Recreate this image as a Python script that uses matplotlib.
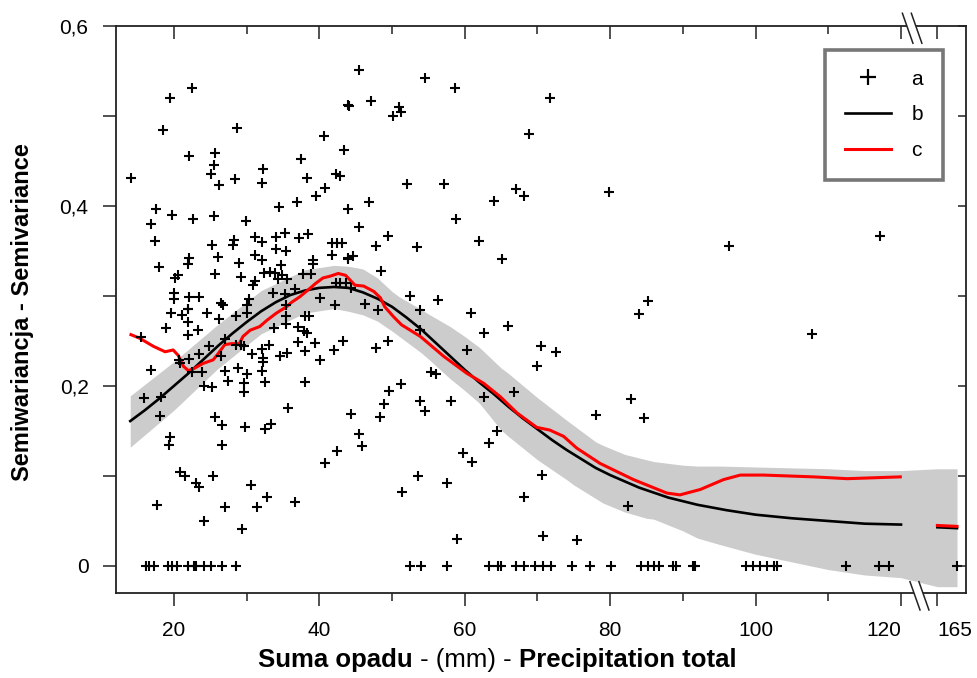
import numpy as np
import matplotlib
matplotlib.use('Agg')
import matplotlib.pyplot as plt
from matplotlib.lines import Line2D
from matplotlib.patches import Polygon

plt.rcParams['font.family'] = ['Liberation Sans', 'DejaVu Sans']

# ── Data ──────────────────────────────────────────────────────────────────────

obs_x = [14.1, 22.5, 19.4, 18.5, 28.7, 22.1, 25.7, 25.5, 25.1, 26.2, 28.4, 32.3, 32.1, 37.5, 38.3,
         40.7, 43.4, 42.3, 42.8, 44.0, 43.9, 40.8, 39.5, 37.0, 34.5, 17.6, 16.8, 19.8, 22.6, 25.5,
         29.9, 17.4, 18.0, 20.2, 20.5, 20.0, 20.0, 22.1, 23.4, 21.9, 22.1, 22.0, 25.2, 26.1, 25.6,
         28.3, 28.2, 29.0, 29.3, 31.2, 32.1, 31.2, 32.1, 34.1, 35.3, 34.1, 35.4, 34.8, 37.2, 38.4,
         32.4, 33.2, 33.9, 34.9, 31.1, 30.9, 39.2, 39.2, 37.8, 38.8, 34.3, 35.6, 36.7, 33.7, 35.3,
         41.8, 41.8, 42.5, 43.1, 43.9, 30.3, 30.0, 26.5, 42.3, 42.9, 43.7, 40.1, 35.4, 42.1,
         45.4, 54.5, 58.6, 71.7, 44.1, 47.1, 50.9, 51.3, 50.2, 68.9, 52.1, 57.1, 67.0, 68.1, 79.9,
         46.8, 64.0, 45.4, 58.8, 49.5, 47.8, 53.5, 62.0, 65.1, 44.0, 44.7, 48.5, 52.5, 56.3, 46.3,
         48.1, 53.8, 60.9, 66.0, 44.3,
         15.5, 16.9, 15.9, 18.2, 18.1, 19.4, 19.3, 18.9, 19.6, 21.1, 22.0, 22.0, 22.0, 23.3, 24.6,
         26.2, 26.7, 28.5, 30.0, 20.7, 20.8, 22.1, 23.4, 24.9, 27.0, 26.5, 22.5, 23.9, 27.1, 28.8,
         30.0, 27.5, 29.6, 29.6, 24.2, 25.3, 28.6, 29.3, 29.6, 30.8, 32.1, 32.2, 32.3, 32.1, 32.5,
         33.1, 33.8, 34.6, 35.5, 35.4, 35.4, 37.1, 37.9, 38.3, 38.1, 37.1, 39.4, 40.1, 38.1, 38.6,
         42.0, 43.3, 38.1, 35.7, 25.7, 26.6, 29.8, 32.5, 33.4, 26.6, 42.4, 40.8, 20.9, 21.5, 23.1,
         23.4, 25.4, 30.6, 32.8, 31.4, 27.0, 24.1, 29.4, 17.7, 36.7,
         44.4, 45.5, 45.9, 48.4, 48.9, 49.6, 49.5, 47.8,
         53.9, 62.7, 60.3, 55.4, 56.1, 51.3, 53.9, 54.5, 58.1, 62.6, 66.8, 70.5, 70.0, 72.6, 78.1,
         82.8, 83.9, 85.2, 84.7, 64.4, 63.4, 59.8, 61.0, 53.6, 57.6, 51.4, 70.6, 68.2, 82.4, 59.0,
         70.8, 75.4,
         96.3, 117.1, 107.7]
obs_y = [0.431, 0.531, 0.520, 0.484, 0.487, 0.455, 0.459, 0.446, 0.436, 0.423, 0.430, 0.441, 0.426, 0.452, 0.431,
         0.478, 0.462, 0.436, 0.433, 0.512, 0.397, 0.420, 0.411, 0.404, 0.399, 0.397, 0.380, 0.390, 0.385, 0.389,
         0.383, 0.361, 0.332, 0.320, 0.323, 0.303, 0.297, 0.299, 0.299, 0.286, 0.342, 0.336, 0.357, 0.343, 0.324,
         0.362, 0.357, 0.337, 0.321, 0.365, 0.360, 0.346, 0.340, 0.365, 0.370, 0.352, 0.350, 0.334, 0.364, 0.369,
         0.326, 0.327, 0.325, 0.323, 0.317, 0.312, 0.340, 0.336, 0.324, 0.324, 0.319, 0.319, 0.308, 0.303, 0.302,
         0.345, 0.359, 0.359, 0.359, 0.341, 0.297, 0.290, 0.292, 0.314, 0.314, 0.314, 0.298, 0.290, 0.290,
         0.551, 0.542, 0.531, 0.520, 0.511, 0.517, 0.510, 0.504, 0.500, 0.480, 0.424, 0.424, 0.419, 0.411, 0.415,
         0.404, 0.405, 0.377, 0.385, 0.367, 0.356, 0.354, 0.361, 0.341, 0.342, 0.344, 0.328, 0.300, 0.296, 0.291,
         0.284, 0.284, 0.281, 0.267, 0.309,
         0.254, 0.218, 0.187, 0.188, 0.167, 0.143, 0.134, 0.264, 0.281, 0.279, 0.285, 0.271, 0.257, 0.262, 0.281,
         0.274, 0.290, 0.278, 0.281, 0.229, 0.225, 0.230, 0.236, 0.244, 0.252, 0.233, 0.215, 0.215, 0.217, 0.220,
         0.213, 0.206, 0.203, 0.193, 0.200, 0.199, 0.246, 0.246, 0.244, 0.236, 0.241, 0.231, 0.227, 0.217, 0.204,
         0.246, 0.264, 0.233, 0.237, 0.269, 0.278, 0.265, 0.261, 0.259, 0.239, 0.249, 0.248, 0.229, 0.278, 0.278,
         0.240, 0.250, 0.204, 0.175, 0.166, 0.157, 0.154, 0.152, 0.158, 0.134, 0.128, 0.114, 0.104, 0.100, 0.092,
         0.088, 0.100, 0.090, 0.077, 0.065, 0.065, 0.050, 0.041, 0.068, 0.071,
         0.169, 0.147, 0.133, 0.166, 0.180, 0.194, 0.250, 0.242,
         0.262, 0.259, 0.240, 0.215, 0.213, 0.202, 0.183, 0.172, 0.183, 0.188, 0.193, 0.244, 0.222, 0.238, 0.168,
         0.186, 0.280, 0.294, 0.164, 0.150, 0.137, 0.125, 0.115, 0.100, 0.092, 0.082, 0.101, 0.077, 0.067, 0.030,
         0.033, 0.029,
         0.356, 0.367, 0.258]

# observations with zero semivariance
zero_x = [16.2, 16.6, 17.3, 19.2, 19.7, 20.4, 22.0, 22.7, 23.1, 24.1, 25.1, 26.6, 28.5,
          52.5, 54.0, 57.5, 63.3, 64.6, 65.0, 67.1, 68.1, 69.7, 70.8, 71.8, 74.8, 77.2, 80.1,
          84.2, 85.2, 86.0, 86.7, 88.7, 89.1, 91.4, 91.7,
          98.7, 99.7, 100.6, 101.6, 102.6, 102.9, 112.4, 117.0, 118.3, 167.7]

# model (b)
fit_x = [14, 16, 18, 20, 22, 24, 26, 28, 30, 32, 34, 36, 38, 40, 42, 44, 46, 48, 50, 52, 54,
         56, 58, 60, 62, 64, 66, 68, 70, 72, 74, 76, 78, 80, 84, 88, 92, 96, 100, 105, 110, 115, 120]
fit_y = [0.161, 0.173, 0.186, 0.200, 0.214, 0.229, 0.244, 0.258, 0.271, 0.283, 0.293, 0.301,
         0.306, 0.309, 0.310, 0.309, 0.304, 0.297, 0.288, 0.276, 0.263, 0.248, 0.233, 0.218,
         0.204, 0.191, 0.177, 0.164, 0.152, 0.140, 0.129, 0.119, 0.109, 0.101, 0.087, 0.076,
         0.068, 0.062, 0.057, 0.053, 0.050, 0.047, 0.046]
fit_x2 = [165.0, 167.7]
fit_y2 = [0.043, 0.042]

# smoother (c)
smo_x = [14.1, 15.3, 17.2, 18.8, 19.9, 20.6, 21.3, 22.0, 22.9, 24.0, 25.4, 26.1, 27.0, 27.9,
         29.0, 29.5, 30.5, 31.8, 32.8, 34.1, 35.5, 36.2, 37.3, 38.5, 39.5, 40.5, 41.5, 42.6,
         43.6, 44.2, 44.9, 46.1, 47.5, 48.4, 49.0, 50.2, 51.3, 52.5, 53.9, 57.1, 60.3, 62.6,
         64.9, 67.2, 69.9, 71.7, 73.6, 75.4, 78.6, 83.2, 87.8, 89.6, 92.4, 95.6, 97.9, 101.1,
         108.0, 112.6, 119.9]
smo_y = [0.257, 0.253, 0.244, 0.238, 0.240, 0.234, 0.222, 0.217, 0.220, 0.225, 0.229, 0.236,
         0.246, 0.247, 0.247, 0.255, 0.262, 0.266, 0.273, 0.281, 0.288, 0.293, 0.299, 0.307,
         0.314, 0.320, 0.322, 0.325, 0.323, 0.318, 0.312, 0.311, 0.305, 0.298, 0.288, 0.277,
         0.268, 0.262, 0.255, 0.233, 0.214, 0.203, 0.188, 0.170, 0.154, 0.151, 0.144, 0.131,
         0.114, 0.096, 0.081, 0.079, 0.085, 0.096, 0.101, 0.101, 0.099, 0.097, 0.099]
smo_x2 = [165.0, 167.7]
smo_y2 = [0.045, 0.044]

# confidence band
band_x = [14, 20, 26, 32, 38, 42, 44, 46, 48, 50, 51, 54, 55, 58, 60, 62, 65, 66, 70, 74, 75,
          78, 79, 82, 85, 86, 90, 92, 95, 100, 110, 115, 120, 165, 167.7]
band_hi = [0.189, 0.227, 0.268, 0.306, 0.329, 0.334, 0.333, 0.330, 0.320, 0.305, 0.299, 0.285,
           0.280, 0.266, 0.255, 0.243, 0.220, 0.214, 0.187, 0.162, 0.156, 0.138, 0.134, 0.124,
           0.118, 0.116, 0.112, 0.111, 0.111, 0.110, 0.108, 0.106, 0.106, 0.108, 0.108]
band_lo = [0.132, 0.173, 0.219, 0.258, 0.281, 0.286, 0.283, 0.279, 0.272, 0.261, 0.255, 0.237,
           0.230, 0.208, 0.195, 0.181, 0.151, 0.144, 0.118, 0.096, 0.090, 0.075, 0.070, 0.060,
           0.053, 0.052, 0.039, 0.031, 0.024, 0.013, -0.004, -0.010, -0.013, -0.023, -0.023]

x_major = [20, 40, 60, 80, 100, 120, 165]
x_minor = [30, 50, 70, 90, 110]
y_major = [0, 0.2, 0.4, 0.6]
y_minor = [0.1, 0.3, 0.5]
y_labels = ['0', '0,2', '0,4', '0,6']

# ── Broken x scale: 121..164 squeezed into 3 units ────────────────────────────

def fwd(x):
    x = np.asarray(x, float)
    return np.where(x <= 121, x, np.where(x < 164, 121 + (x - 121) * 3 / 43, x - 40))

def inv(p):
    p = np.asarray(p, float)
    return np.where(p <= 121, p, np.where(p < 124, 121 + (p - 121) * 43 / 3, p + 40))

# ── Figure ────────────────────────────────────────────────────────────────────

SPINE = '#222222'
FS = 15

fig = plt.figure(figsize=(9.78, 6.78), dpi=100)
ax = fig.add_axes([0.1183, 0.1254, 0.8699, 0.8363])
ax.set_xscale('function', functions=(fwd, inv))

ax.fill_between(band_x, band_lo, band_hi, color='#cccccc', lw=0, zorder=1)
ax.plot(fit_x, fit_y, color='black', lw=1.9, zorder=3)
ax.plot(fit_x2, fit_y2, color='black', lw=1.9, zorder=3)
ax.plot(smo_x, smo_y, color='#ff0000', lw=2.2, zorder=4)
ax.plot(smo_x2, smo_y2, color='#ff0000', lw=2.2, zorder=4)
ax.plot(obs_x, obs_y, ls='none', marker='+', ms=7, mew=1.5, color='black', zorder=5)
ax.plot(zero_x, [0] * len(zero_x), ls='none', marker='+', ms=7, mew=1.5, color='black', zorder=5)

ax.set_xlim(12.0, 169.0)
ax.set_ylim(-0.03, 0.6)

ax.set_xticks(x_major)
ax.set_xticklabels([str(v) for v in x_major])
ax.set_xticks(x_minor, minor=True)
ax.set_yticks(y_major)
ax.set_yticklabels(y_labels)
ax.set_yticks(y_minor, minor=True)
ax.tick_params(axis='x', which='major', direction='out', length=9.5, width=1.1,
               labelsize=FS, pad=11, color=SPINE)
ax.tick_params(axis='x', which='minor', direction='out', length=5.5, width=1.1, color=SPINE)
ax.tick_params(axis='y', which='both', direction='out', length=9.5, width=1.1,
               labelsize=FS, pad=10, color=SPINE)
xl = ax.get_xticklabels()
xl[5].set_ha('right')
xl[6].set_ha('left')

for s in ax.spines.values():
    s.set_linewidth(1.3)
    s.set_color(SPINE)

# top ticks (inward)
axt = ax.twiny()
axt.set_xscale('function', functions=(fwd, inv))
axt.set_xlim(ax.get_xlim())
axt.set_xticks(x_major)
axt.set_xticks(x_minor, minor=True)
axt.tick_params(axis='x', which='major', direction='in', length=9.5, width=1.1,
                labeltop=False, color=SPINE)
axt.tick_params(axis='x', which='minor', direction='in', length=5.5, width=1.1, color=SPINE)

# right ticks (inward)
axr = ax.twinx()
axr.set_ylim(ax.get_ylim())
axr.set_yticks(y_major)
axr.set_yticks(y_minor, minor=True)
axr.tick_params(axis='y', which='both', direction='in', length=5.5, width=1.1,
                labelright=False, color=SPINE)
for a in (axt, axr):
    for s in a.spines.values():
        s.set_visible(False)

# axis break marks
def slashes(x0, y0, x1, y1):
    gap = 0.0105
    wp = Polygon([(x0, y0), (x1, y1), (x1 + gap, y1), (x0 + gap, y0)], closed=True,
                 transform=ax.transAxes, facecolor='white', edgecolor='none', zorder=20)
    wp.set_clip_on(False)
    ax.add_patch(wp)
    for dx in (0, gap):
        ax.add_line(Line2D([x0 + dx, x1 + dx], [y0, y1], transform=ax.transAxes,
                           color=SPINE, lw=1.1, clip_on=False, zorder=21))

slashes(0.9247, 1.0224, 0.9371, 0.9695)
slashes(0.9336, 0.0199, 0.9454, -0.030)

# legend
handles = [Line2D([], [], ls='none', marker='+', ms=12, mew=1.6, color='black'),
           Line2D([], [], color='black', lw=1.9),
           Line2D([], [], color='#ff0000', lw=2.2)]
leg = ax.legend(handles, ['a', 'b', 'c'], loc='upper right',
                bbox_to_anchor=(0.9724, 0.9577), fontsize=FS, frameon=True,
                fancybox=False, handlelength=2.2, handletextpad=1.0,
                labelspacing=0.8, borderpad=0.95, borderaxespad=0)
leg.get_frame().set_edgecolor('#555555')
leg.get_frame().set_linewidth(2.6)

# axis titles
fig.text(0.0225, 0.54, 'Semiwariancja - Semivariance', rotation=90, ha='center',
         va='center', fontsize=17, fontweight='bold')
t1 = fig.text(0.264, 0.016, 'Suma opadu', fontsize=18.5, fontweight='bold', va='baseline')
t2 = ax.annotate(' - (mm) - ', xy=(1, 0), xycoords=t1, fontsize=18.5, va='bottom',
                 annotation_clip=False)
t3 = ax.annotate('Precipitation total', xy=(1, 0), xycoords=t2, fontsize=18.5,
                 fontweight='bold', va='bottom', annotation_clip=False)

fig.savefig('out.png', dpi=100)
